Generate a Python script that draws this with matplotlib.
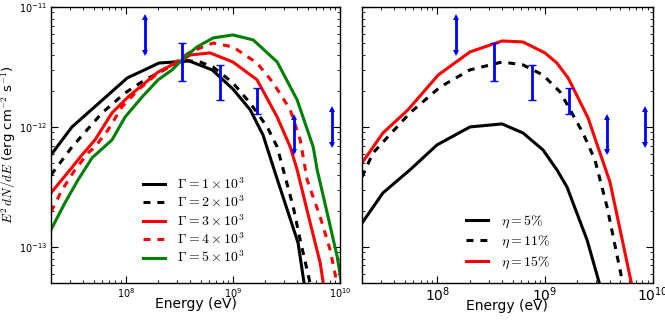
import matplotlib
matplotlib.use('Agg')
import numpy as np
import matplotlib.pyplot as plt
from matplotlib.ticker import NullFormatter

plt.rcParams['mathtext.fontset'] = 'cm'
plt.rcParams['font.family'] = ['DejaVu Sans']
plt.rcParams['lines.scale_dashes'] = False

# ---------------- data ----------------
# Left panel: different Lorentz factors
E_g1 = [2.0e7, 3.14e7, 1.03e8, 2.04e8, 3.9e8, 6.4e8, 1.0e9, 1.45e9, 1.91e9, 2.48e9, 4.06e9, 4.7e9]
F_g1 = [5.85e-13, 1.0e-12, 2.56e-12, 3.41e-12, 3.55e-12, 2.99e-12, 2.07e-12, 1.39e-12, 8.57e-13, 4.14e-13, 1.08e-13, 4.5e-14]

E_g2 = [2.0e7, 3.14e7, 6.0e7, 9.84e7, 1.51e8, 2.09e8, 3.35e8, 4.94e8, 6.53e8, 1.0e9, 1.45e9, 2.09e9, 2.59e9, 3.66e9, 4.25e9, 5.4e9]
F_g2 = [3.98e-13, 6.81e-13, 1.31e-12, 1.92e-12, 2.47e-12, 2.87e-12, 3.61e-12, 3.48e-12, 3.16e-12, 2.33e-12, 1.58e-12, 1.0e-12, 6.81e-13, 2.15e-13, 1.14e-13, 4.5e-14]

E_g3 = [2.0e7, 3.01e7, 3.9e7, 5.15e7, 7.43e7, 1.05e8, 1.51e8, 2.0e8, 2.7e8, 3.35e8, 3.98e8, 6.12e8, 1.0e9, 1.68e9, 2.59e9, 3.43e9, 3.98e9, 5.27e9, 6.53e9, 7.1e9]
F_g3 = [2.82e-13, 4.39e-13, 5.85e-13, 7.8e-13, 1.31e-12, 1.78e-12, 2.33e-12, 2.87e-12, 3.29e-12, 3.61e-12, 3.98e-12, 4.14e-12, 3.48e-12, 2.47e-12, 1.21e-12, 6.81e-13, 4.39e-13, 1.58e-13, 7.36e-14, 4.5e-14]

E_g4 = [2.0e7, 2.54e7, 3.35e7, 4.44e7, 5.15e7, 6.82e7, 9.2e7, 1.3e8, 2.0e8, 2.7e8, 3.98e8, 6.53e8, 1.0e9, 1.68e9, 2.38e9, 3.43e9, 4.25e9, 4.94e9, 6.53e9, 8.09e9, 9.6e9]
F_g4 = [1.96e-13, 2.99e-13, 4.39e-13, 6.07e-13, 6.81e-13, 9.44e-13, 1.47e-12, 2.03e-12, 2.82e-12, 3.29e-12, 4.22e-12, 5.01e-12, 4.65e-12, 3.41e-12, 2.33e-12, 1.39e-12, 7.8e-13, 3.61e-13, 1.78e-13, 9.44e-14, 4.5e-14]

E_g5 = [2.0e7, 2.7e7, 3.57e7, 4.83e7, 7.43e7, 9.84e7, 1.42e8, 2.0e8, 2.7e8, 3.57e8, 4.62e8, 6.53e8, 1.0e9, 1.55e9, 2.59e9, 3.98e9, 5.62e9, 6.12e9, 7.59e9, 9.42e9, 1.05e10]
F_g5 = [1.39e-13, 2.33e-13, 3.61e-13, 5.52e-13, 7.8e-13, 1.21e-12, 1.78e-12, 2.47e-12, 2.99e-12, 3.83e-12, 4.65e-12, 5.52e-12, 5.85e-12, 5.31e-12, 3.48e-12, 1.68e-12, 6.81e-13, 4.39e-13, 1.92e-13, 8.26e-14, 4.5e-14]

# Right panel: different efficiencies
E_e5 = [2.0e7, 3.13e7, 5.58e7, 9.93e7, 2.01e8, 3.99e8, 6.25e8, 9.59e8, 1.29e9, 1.6e9, 2.46e9, 3.3e9]
F_e5 = [1.58e-13, 2.82e-13, 4.39e-13, 7.08e-13, 1.0e-12, 1.06e-12, 8.91e-13, 6.43e-13, 4.39e-13, 3.16e-13, 1.14e-13, 4.5e-14]

E_e11 = [2.0e7, 2.53e7, 5.58e7, 1.06e8, 2.01e8, 3.99e8, 6.25e8, 9.59e8, 1.38e9, 1.71e9, 2.25e9, 2.91e9, 3.77e9, 5.4e9]
F_e11 = [3.83e-13, 6.07e-13, 1.31e-12, 2.15e-12, 2.99e-12, 3.48e-12, 3.29e-12, 2.71e-12, 1.96e-12, 1.39e-12, 8.91e-13, 5.31e-13, 2.15e-13, 4.5e-14]

E_e15 = [2.0e7, 3.13e7, 5.35e7, 1.02e8, 2.01e8, 3.99e8, 6.25e8, 1.0e9, 1.29e9, 1.64e9, 2.51e9, 3.1e9, 4.01e9, 6.5e9]
F_e15 = [5.01e-13, 8.91e-13, 1.39e-12, 2.71e-12, 4.22e-12, 5.21e-12, 5.11e-12, 4.14e-12, 3.41e-12, 2.56e-12, 1.19e-12, 6.81e-13, 3.48e-13, 4.5e-14]

# Observational points (blue)
ul_E = [1.5e8, 3.73e9, 8.45e9]
ul_hi = [8.26e-12, 1.21e-12, 1.41e-12]
ul_lo = [4.14e-12, 6.19e-13, 7.08e-13]

eb_E = [3.35e8, 7.6e8, 1.68e9]
eb_F = [3.48e-12, 2.35e-12, 1.64e-12]
eb_hi = [5.01e-12, 3.29e-12, 2.11e-12]
eb_lo = [2.42e-12, 1.68e-12, 1.28e-12]

gamma_labels = [r'$\Gamma=1\times10^3$', r'$\Gamma=2\times10^3$', r'$\Gamma=3\times10^3$',
                r'$\Gamma=4\times10^3$', r'$\Gamma=5\times10^3$']
eta_labels = [r'$\eta=5\%$', r'$\eta=11\%$', r'$\eta=15\%$']

# ---------------- figure ----------------
fig = plt.figure(figsize=(6.65, 3.21), dpi=100)
H = 321.0
W = 665.0
ax1 = fig.add_axes([51 / W, 1 - 283 / H, (340 - 51) / W, 276 / H])
ax2 = fig.add_axes([362 / W, 1 - 283 / H, (652.7 - 362) / W, 276 / H])

LW = 2.2
DASH = (5, 5)
ax1.plot(E_g1, F_g1, color='k', lw=LW, label=gamma_labels[0])
ax1.plot(E_g2, F_g2, color='k', lw=LW, ls='--', dashes=DASH, label=gamma_labels[1])
ax1.plot(E_g3, F_g3, color='r', lw=LW, label=gamma_labels[2])
ax1.plot(E_g4, F_g4, color='r', lw=LW, ls='--', dashes=DASH, label=gamma_labels[3])
ax1.plot(E_g5, F_g5, color='#008000', lw=LW, label=gamma_labels[4])

ax2.plot(E_e5, F_e5, color='k', lw=LW, label=eta_labels[0])
ax2.plot(E_e11, F_e11, color='k', lw=LW, ls='--', dashes=DASH, label=eta_labels[1])
ax2.plot(E_e15, F_e15, color='r', lw=LW, label=eta_labels[2])

eb_F_arr = np.array(eb_F)
yerr = [eb_F_arr - np.array(eb_lo), np.array(eb_hi) - eb_F_arr]
for ax in (ax1, ax2):
    ax.vlines(ul_E, ul_lo, ul_hi, color='#0000ff', lw=2, zorder=5)
    ax.plot(ul_E, ul_lo, 'v', color='#0000ff', ms=5, mew=0, zorder=5)
    ax.plot(ul_E, ul_hi, '^', color='#0000ff', ms=4, mew=0, zorder=5)
    ax.errorbar(eb_E, eb_F, yerr=yerr, fmt='none', ecolor='#0000ff',
                elinewidth=2, capsize=3, capthick=1, zorder=5)

for ax in (ax1, ax2):
    ax.set_xscale('log')
    ax.set_yscale('log')
    ax.set_xlim(2e7, 1e10)
    ax.set_ylim(5e-14, 1e-11)
    ax.xaxis.set_minor_formatter(NullFormatter())
    ax.yaxis.set_minor_formatter(NullFormatter())
    ax.tick_params(which='both', direction='in', top=True, right=True)
    ax.tick_params(which='major', length=5, width=0.8)
    ax.tick_params(which='minor', length=2.5, width=0.6)
    for s in ax.spines.values():
        s.set_linewidth(1.0)
    ax.set_xlabel('Energy (eV)', fontsize=10)

ax1.tick_params(which='major', labelsize=7, pad=2.5)
ax2.tick_params(which='major', labelsize=10, pad=1.5, labelleft=False)

ax1.set_ylabel(r'$E^2\,dN/dE$ (erg cm$^{-2}$ s$^{-1}$)', fontsize=9.5)
ax1.yaxis.set_label_coords(-0.113, 0.5)
ax1.xaxis.set_label_coords(0.5, -0.05)
ax2.xaxis.set_label_coords(0.5, -0.057)

ax1.legend(loc='center', bbox_to_anchor=(0.495, 0.225), frameon=False, fontsize=10,
           handlelength=1.6, handletextpad=0.9, labelspacing=0.2)
ax2.legend(loc='center', bbox_to_anchor=(0.503, 0.149), frameon=False, fontsize=10,
           handlelength=1.6, handletextpad=0.9, labelspacing=0.3)

fig.savefig('out.png', dpi=100)
